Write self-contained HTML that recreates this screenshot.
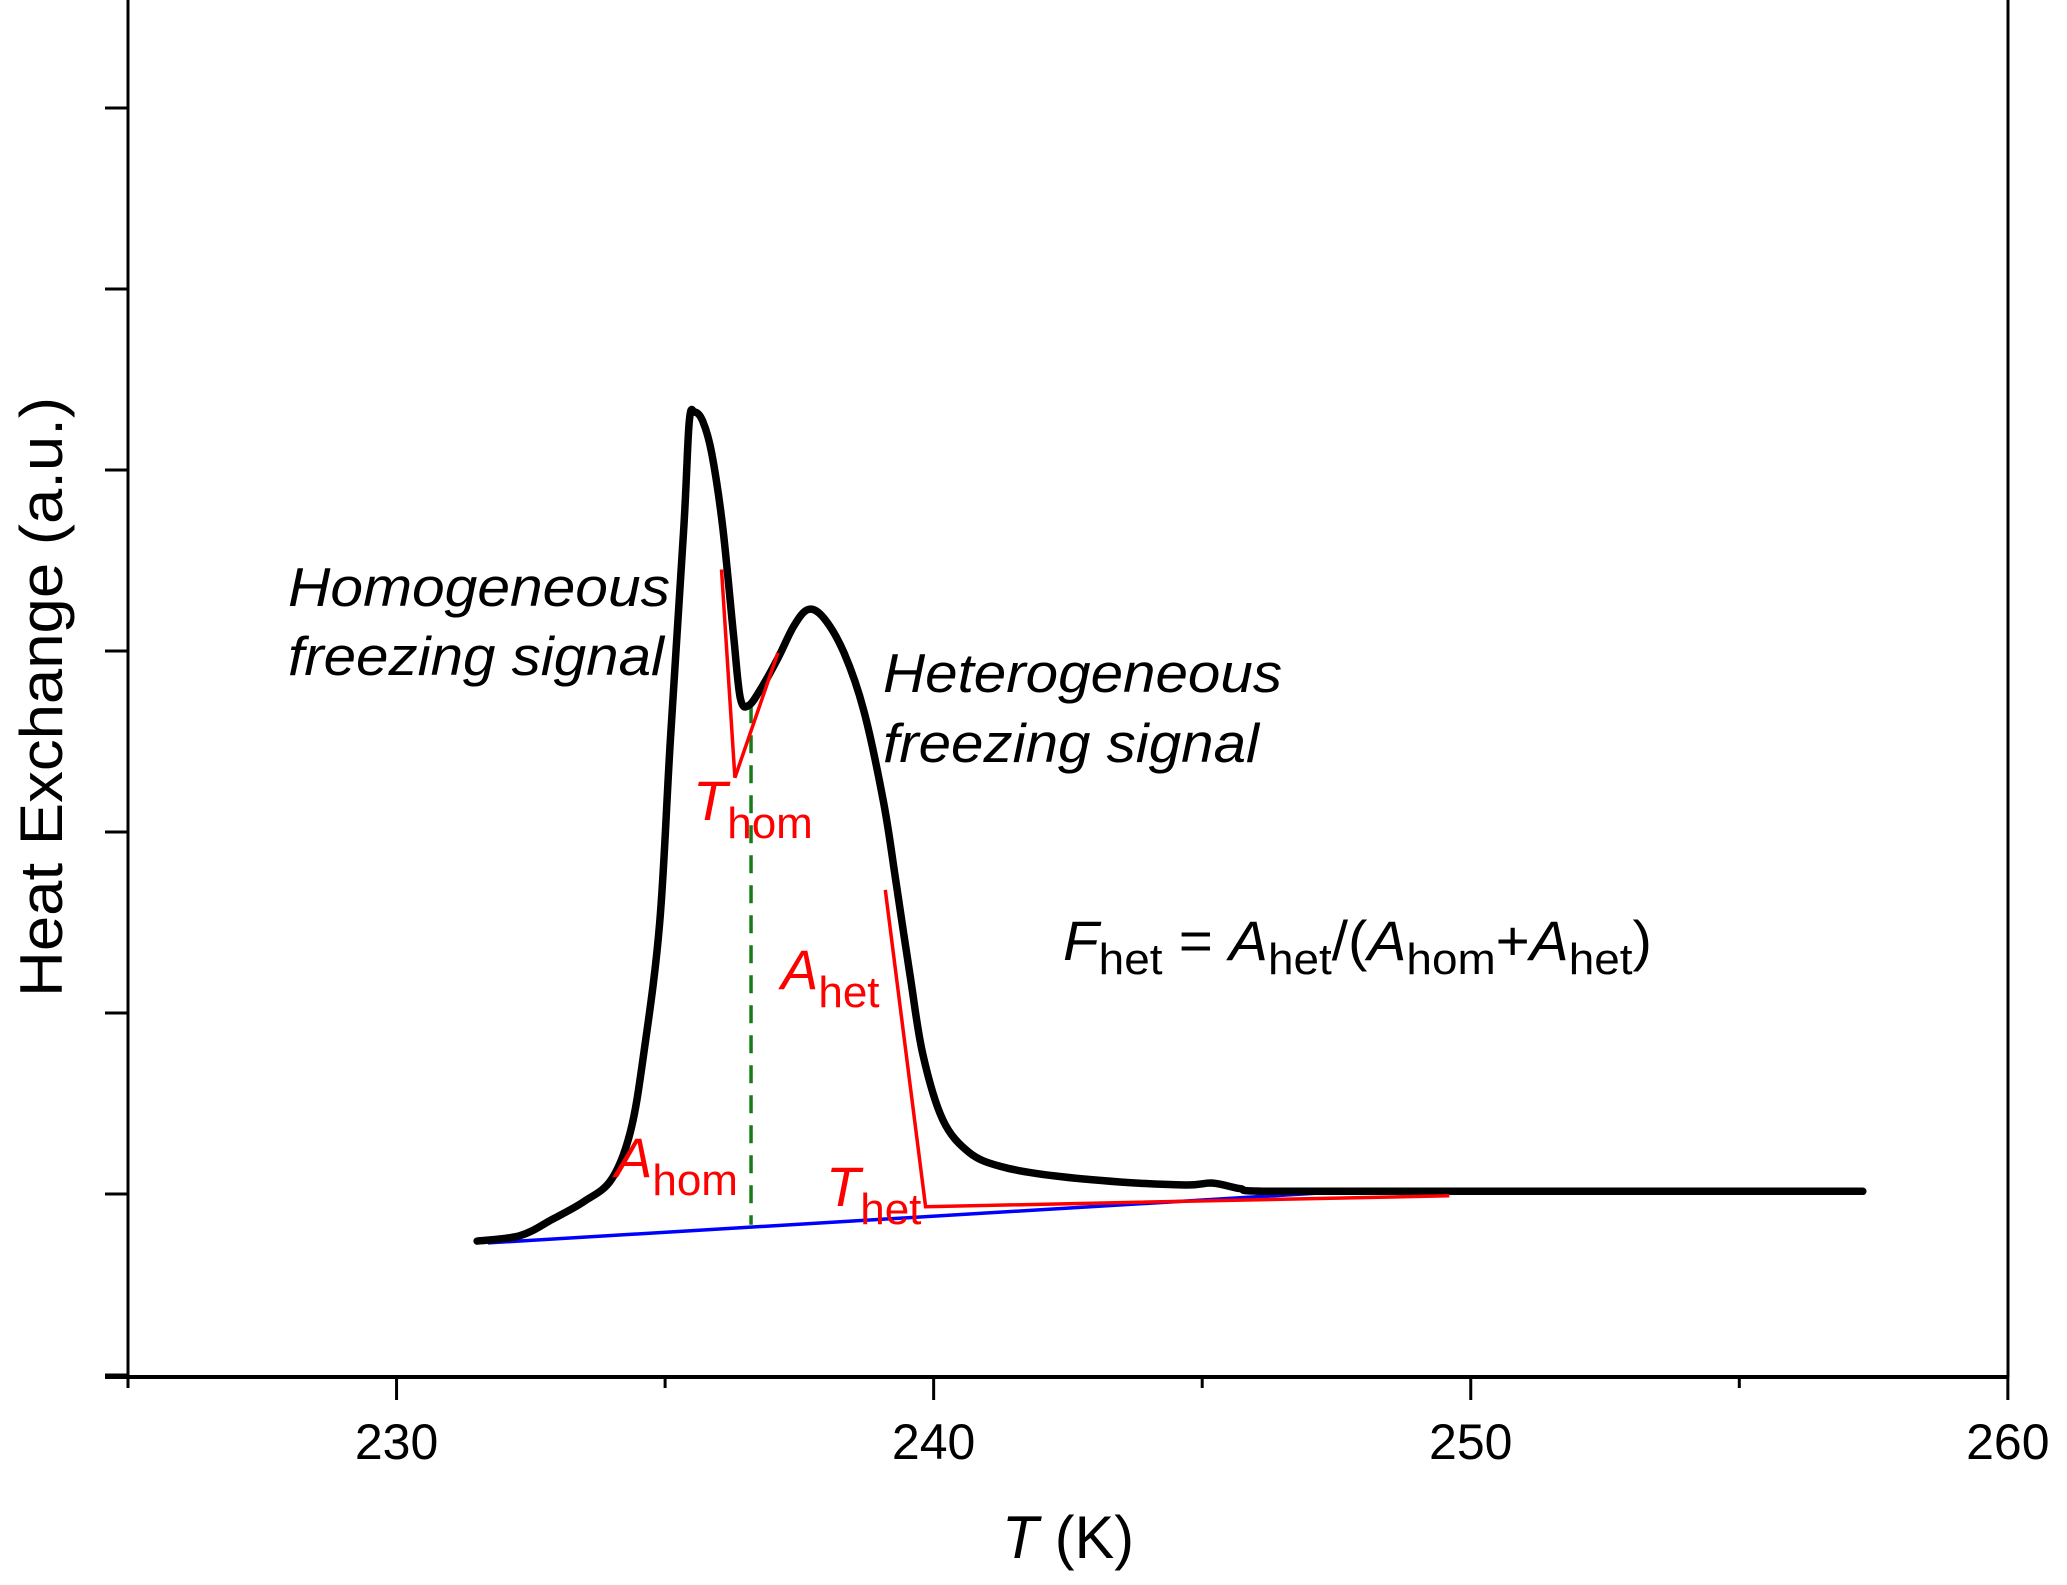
<!DOCTYPE html>
<html><head><meta charset="utf-8"><style>
html,body{margin:0;padding:0;background:#fff}
svg{display:block}
text{font-family:"Liberation Sans",Arial,sans-serif}
</style></head><body>
<svg id="chart" width="2067" height="1585" viewBox="0 0 2067 1585" xmlns="http://www.w3.org/2000/svg">
<g id="axes"></g>
<g id="marks"></g>
<g id="labels">
  <text transform="translate(62,697) rotate(-90)" font-size="60" text-anchor="middle" textLength="600" lengthAdjust="spacingAndGlyphs">Heat Exchange (a.u.)</text>
  <text x="1068" y="1558" font-size="60" text-anchor="middle" textLength="132" lengthAdjust="spacingAndGlyphs"><tspan font-style="italic">T</tspan> (K)</text>
  <text x="288" y="606" font-size="55" font-style="italic" textLength="382" lengthAdjust="spacingAndGlyphs">Homogeneous</text>
  <text x="288" y="675" font-size="55" font-style="italic" textLength="376" lengthAdjust="spacingAndGlyphs">freezing signal</text>
  <text x="883" y="692" font-size="55" font-style="italic" textLength="399" lengthAdjust="spacingAndGlyphs">Heterogeneous</text>
  <text x="883" y="762" font-size="55" font-style="italic" textLength="376" lengthAdjust="spacingAndGlyphs">freezing signal</text>
  <text x="693" y="820" font-size="56" fill="#ff0000"><tspan font-style="italic">T</tspan><tspan dy="18" font-size="44">hom</tspan></text>
  <text x="781" y="989" font-size="56" fill="#ff0000"><tspan font-style="italic">A</tspan><tspan dy="18" font-size="44">het</tspan></text>
  <text x="615" y="1177" font-size="56" fill="#ff0000"><tspan font-style="italic">A</tspan><tspan dy="18" font-size="44">hom</tspan></text>
  <text x="826" y="1206" font-size="56" fill="#ff0000"><tspan font-style="italic">T</tspan><tspan dy="18" font-size="44">het</tspan></text>
  <text x="1063" y="960" font-size="56" textLength="589" lengthAdjust="spacingAndGlyphs"><tspan font-style="italic">F</tspan><tspan dy="14" font-size="44">het</tspan><tspan dy="-14"> = </tspan><tspan font-style="italic">A</tspan><tspan dy="14" font-size="44">het</tspan><tspan dy="-14">/(</tspan><tspan font-style="italic">A</tspan><tspan dy="14" font-size="44">hom</tspan><tspan dy="-14">+</tspan><tspan font-style="italic">A</tspan><tspan dy="14" font-size="44">het</tspan><tspan dy="-14">)</tspan></text>
</g>
</svg>
<script>
const xTicks=[230,240,250,260];
const xMinor=[225,235,245,255];
const yTicks=[-1,0,1,2,3,4,5,6,7];
const curveT=[231.5,232.3,232.9,233.5,234.0,234.35,234.6,234.9,235.1,235.35,235.45,235.55,235.7,235.87,236.07,236.27,236.4,236.56,236.8,237.1,237.4,237.67,237.96,238.33,238.7,239.07,239.3,239.56,239.8,240.17,240.66,241.27,242.25,243.5,244.7,245.2,245.7,246.2,249.6,257.3];
const curveV=[-0.26,-0.23,-0.14,-0.04,0.08,0.34,0.77,1.5,2.52,3.69,4.27,4.32,4.27,4.09,3.69,3.1,2.74,2.7,2.8,2.96,3.14,3.23,3.18,2.99,2.67,2.16,1.72,1.21,0.77,0.41,0.23,0.15,0.10,0.066,0.05,0.06,0.03,0.015,0.015,0.015];
const baselineT=[231.7,248.0];
const baselineV=[-0.27,0.02];
const thomT=[236.05,236.3,237.1];
const thomV=[3.45,2.3,2.99];
const thetT=[239.1,239.85,249.6];
const thetV=[1.68,-0.07,-0.01];
const dividerT=236.6;
const dividerV=[2.7,-0.17];

const X=t=>128+(t-225)*53.71;
const Y=v=>1194-v*181;
const NS='http://www.w3.org/2000/svg';
function mk(tag,attrs,parent){const e=document.createElementNS(NS,tag);for(const k in attrs)e.setAttribute(k,attrs[k]);parent.appendChild(e);return e;}
const axes=document.getElementById('axes'), marks=document.getElementById('marks');

let e=mk('line',{x1:128,y1:0,x2:128,y2:1377,stroke:'#000','stroke-width':3},axes);


e=mk('line',{x1:2008,y1:0,x2:2008,y2:1377,stroke:'#000','stroke-width':3},axes);


e=mk('line',{x1:105,y1:1377,x2:2008,y2:1377,stroke:'#000','stroke-width':4},axes);


xTicks.forEach(t=>{
  const l=mk('line',{x1:X(t),y1:1377,x2:X(t),y2:1400,stroke:'#000','stroke-width':3},axes);
  
  
  const tx=mk('text',{x:X(t),y:1459,'font-size':50,'text-anchor':'middle'},axes);
  tx.textContent=t;
  
  
});
xMinor.forEach(t=>{
  const l=mk('line',{x1:X(t),y1:1377,x2:X(t),y2:1388,stroke:'#000','stroke-width':3},axes);
  
  
});
yTicks.forEach(v=>{
  const l=mk('line',{x1:105,y1:Y(v),x2:128,y2:Y(v),stroke:'#000','stroke-width':3},axes);
  
  
});
const pts=(ts,vs)=>ts.map((t,i)=>X(t).toFixed(1)+','+Y(vs[i]).toFixed(1)).join(' ');
function smooth(ts,vs){
  const p=ts.map((t,i)=>[X(t),Y(vs[i])]);
  let d='M'+p[0][0]+','+p[0][1];
  for(let i=0;i<p.length-1;i++){
    const p0=p[i-1]||p[i],p1=p[i],p2=p[i+1],p3=p[i+2]||p2;
    const c1=[p1[0]+(p2[0]-p0[0])/6,p1[1]+(p2[1]-p0[1])/6];
    const c2=[p2[0]-(p3[0]-p1[0])/6,p2[1]-(p3[1]-p1[1])/6];
    d+=' C'+c1[0].toFixed(1)+','+c1[1].toFixed(1)+' '+c2[0].toFixed(1)+','+c2[1].toFixed(1)+' '+p2[0].toFixed(1)+','+p2[1].toFixed(1);
  }
  return d;
}
e=mk('polyline',{points:pts(baselineT,baselineV),fill:'none',stroke:'#0000ff','stroke-width':3.5},marks);


e=mk('line',{x1:X(dividerT),y1:Y(dividerV[0]),x2:X(dividerT),y2:Y(dividerV[1]),stroke:'#1a7a1a','stroke-width':3.5,'stroke-dasharray':'18,12'},marks);


e=mk('path',{d:smooth(curveT,curveV),fill:'none',stroke:'#000','stroke-width':7.5,'stroke-linejoin':'round','stroke-linecap':'round'},marks);


e=mk('polyline',{points:pts(thomT,thomV),fill:'none',stroke:'#ff0000','stroke-width':3.5},marks);


e=mk('polyline',{points:pts(thetT,thetV),fill:'none',stroke:'#ff0000','stroke-width':3.5},marks);


</script>
</body></html>
